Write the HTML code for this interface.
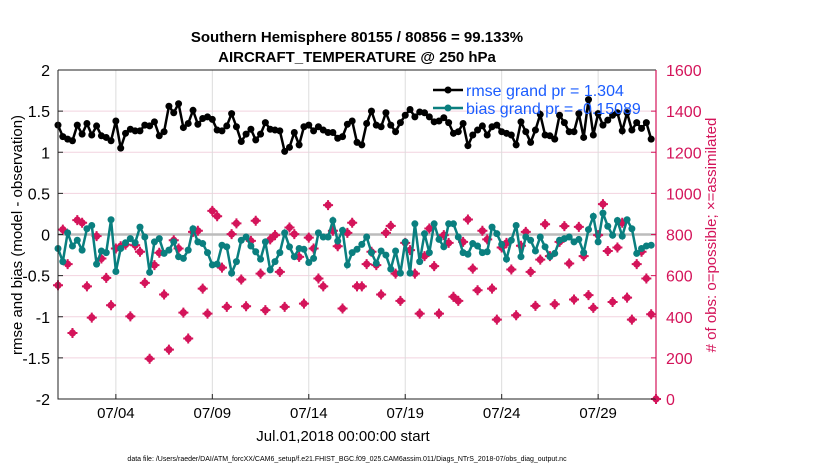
<!DOCTYPE html>
<html><head><meta charset="utf-8"><style>
body{margin:0;background:#fff;}
svg text{font-family:"Liberation Sans",sans-serif;}
</style></head><body>
<svg id="chart" width="830" height="470" xmlns="http://www.w3.org/2000/svg">
<text x="357" y="42" text-anchor="middle" font-size="15" font-weight="bold">Southern Hemisphere 80155 / 80856 = 99.133%</text>
<text x="357" y="62" text-anchor="middle" font-size="15" font-weight="bold">AIRCRAFT_TEMPERATURE @ 250 hPa</text>
<g id="grid"></g>
<g id="marks"></g>
<g id="axes"></g>
<text transform="translate(22,235) rotate(-90)" text-anchor="middle" font-size="15">rmse and bias (model - observation)</text>
<text transform="translate(716,235) rotate(-90)" text-anchor="middle" font-size="15" fill="#d4145a"># of obs: o=possible; ×=assimilated</text>
<text x="343" y="441" text-anchor="middle" font-size="15">Jul.01,2018 00:00:00 start</text>
<text x="347" y="461" text-anchor="middle" font-size="7">data file: /Users/raeder/DAI/ATM_forcXX/CAM6_setup/f.e21.FHIST_BGC.f09_025.CAM6assim.011/Diags_NTrS_2018-07/obs_diag_output.nc</text>
<g>
<line x1="433" y1="90" x2="463" y2="90" stroke="#000" stroke-width="2.5"/><circle cx="448" cy="90" r="3.5" fill="#000"/>
<text x="466" y="96" font-size="16" fill="#1a5cff">rmse grand pr = 1.304</text>
<line x1="433" y1="108" x2="463" y2="108" stroke="#0a7f7f" stroke-width="2.5"/><circle cx="448" cy="108" r="3.5" fill="#0a7f7f"/>
<text x="466" y="114" font-size="16" fill="#1a5cff">bias grand pr = -0.15089</text>
</g>
</svg>
<script>
const rmse=[1.33,1.19,1.16,1.14,1.33,1.22,1.35,1.21,1.32,1.20,1.18,1.14,1.38,1.05,1.23,1.28,1.26,1.26,1.33,1.32,1.37,1.20,1.25,1.56,1.48,1.59,1.30,1.35,1.51,1.34,1.41,1.43,1.40,1.27,1.26,1.32,1.47,1.31,1.13,1.22,1.28,1.15,1.22,1.36,1.28,1.27,1.26,1.01,1.06,1.24,1.09,1.31,1.33,1.26,1.31,1.27,1.24,1.24,1.17,1.19,1.34,1.38,1.12,1.09,1.35,1.50,1.33,1.31,1.48,1.33,1.25,1.36,1.45,1.52,1.43,1.49,1.48,1.43,1.37,1.38,1.42,1.36,1.23,1.25,1.35,1.08,1.21,1.27,1.32,1.21,1.31,1.33,1.25,1.23,1.21,1.09,1.37,1.25,1.12,1.27,1.46,1.21,1.20,1.16,1.45,1.36,1.25,1.25,1.47,1.18,1.64,1.21,1.47,1.33,1.39,1.45,1.48,1.26,1.48,1.27,1.36,1.29,1.36,1.16];
const bias=[-0.17,-0.33,0.02,-0.14,-0.07,-0.19,0.07,0.11,-0.36,-0.20,-0.22,0.18,-0.45,-0.17,-0.10,-0.05,-0.10,0.09,-0.03,-0.46,-0.09,-0.05,-0.23,-0.19,-0.09,-0.27,-0.29,-0.19,0.07,-0.09,-0.11,-0.22,-0.37,-0.36,-0.13,-0.15,-0.47,-0.33,-0.07,-0.03,-0.14,-0.21,-0.30,-0.09,-0.43,-0.33,-0.22,0.02,-0.15,-0.27,-0.17,-0.18,-0.34,-0.29,0.02,-0.03,-0.03,0.17,-0.08,0.05,-0.37,-0.22,-0.18,-0.12,-0.03,-0.22,-0.35,-0.20,-0.25,-0.42,-0.20,-0.47,-0.09,-0.47,0.13,-0.33,0.01,-0.22,0.13,-0.06,-0.15,0.13,0.13,-0.03,-0.22,-0.24,-0.11,-0.14,-0.22,-0.21,0.09,0.01,-0.12,-0.30,-0.07,0.11,-0.27,-0.03,-0.07,-0.20,-0.03,-0.15,-0.27,-0.23,-0.07,-0.05,-0.03,-0.09,-0.06,-0.22,0.06,0.22,-0.09,0.26,0.10,-0.01,0.17,-0.02,0.18,0.07,-0.23,-0.17,-0.14,-0.13];
const obsCount=[553,824,656,321,870,857,548,396,792,683,589,456,732,743,751,402,748,716,565,196,651,711,508,240,772,732,420,294,813,818,537,415,915,889,639,448,802,854,581,451,769,867,610,432,776,797,618,448,834,802,691,464,785,732,586,548,943,818,743,440,808,857,548,548,656,716,651,508,808,842,610,477,759,724,610,415,695,829,646,415,797,759,497,477,764,873,634,529,818,776,537,386,737,759,630,407,745,813,618,453,678,850,695,461,764,841,659,484,837,695,505,443,797,948,720,472,737,857,493,386,656,716,586,412,0];
const xTickLabels=["07/04","07/09","07/14","07/19","07/24","07/29"];
const xTickDays=[3,8,13,18,23,28];
const yTicks=[-2,-1.5,-1,-0.5,0,0.5,1,1.5,2];
const y2Ticks=[0,200,400,600,800,1000,1200,1400,1600];
const stepDays=0.25;

const NS="http://www.w3.org/2000/svg";
const L=58,R=656,T=70,B=399;
const xs=d=>L+(d/31)*(R-L);
const ys=v=>B-(v+2)/4*(B-T);
const ys2=c=>B-c/1600*(B-T);
function mk(tag,attrs,parent){const e=document.createElementNS(NS,tag);for(const k in attrs)e.setAttribute(k,attrs[k]);parent.appendChild(e);return e;}
const grid=document.getElementById('grid'),marks=document.getElementById('marks'),axes=document.getElementById('axes');

yTicks.forEach(v=>{
  const g=mk('line',{x1:L,x2:R,y1:ys(v),y2:ys(v),stroke:'#f2d3df','stroke-width':1},grid);
  
  
  const t=mk('text',{x:50,y:ys(v)+6,'text-anchor':'end','font-size':16},axes);t.textContent=v;
  
  
  mk('line',{x1:L,x2:L+5,y1:ys(v),y2:ys(v),stroke:'#222'},axes);
});
xTickDays.forEach((d,i)=>{
  const g=mk('line',{x1:xs(d),x2:xs(d),y1:T,y2:B,stroke:'#dcdcdc','stroke-width':1},grid);
  
  
  mk('line',{x1:xs(d),x2:xs(d),y1:B,y2:B-5,stroke:'#222'},axes);
  const t=mk('text',{x:xs(d),y:418,'text-anchor':'middle','font-size':15},axes);t.textContent=xTickLabels[i];
  
  
});
const zl=mk('line',{x1:L,x2:R,y1:ys(0),y2:ys(0),stroke:'#bcbcbc','stroke-width':2.5},grid);



obsCount.forEach((c,i)=>{
  const x=xs(i*stepDays),y=ys2(c);
  const g=mk('g',{},marks);
  
  
  mk('circle',{cx:x,cy:y,r:3.6,fill:'#d4145a'},g);
  mk('path',{d:`M${x-5},${y}H${x+5}M${x},${y-5}V${y+5}`,stroke:'#d4145a','stroke-width':2},g);
});
function series(vals,col,name){
  const pts=vals.map((v,i)=>xs(i*stepDays)+','+ys(v)).join(' ');
  const pl=mk('polyline',{points:pts,fill:'none',stroke:col,'stroke-width':2.5},marks);
  
  
  vals.forEach((v,i)=>{
    const c=mk('circle',{cx:xs(i*stepDays),cy:ys(v),r:3.5,fill:col},marks);
    
    
  });
}
series(bias,'#0a7f7f','bias');
series(rmse,'#000','rmse');

y2Ticks.forEach(c=>{
  mk('line',{x1:R,x2:R-5,y1:ys2(c),y2:ys2(c),stroke:'#d4145a'},axes);
  const t=mk('text',{x:666,y:ys2(c)+6,'font-size':16,fill:'#d4145a'},axes);t.textContent=c;
  
  
});
mk('path',{d:`M${L},${T}V${B}H${R}`,fill:'none',stroke:'#222','stroke-width':1},axes);
mk('line',{x1:L,x2:R,y1:T,y2:T,stroke:'#222','stroke-width':1},axes);
mk('line',{x1:R,x2:R,y1:T,y2:B,stroke:'#d4145a','stroke-width':1.2},axes);
</script>
</body></html>
